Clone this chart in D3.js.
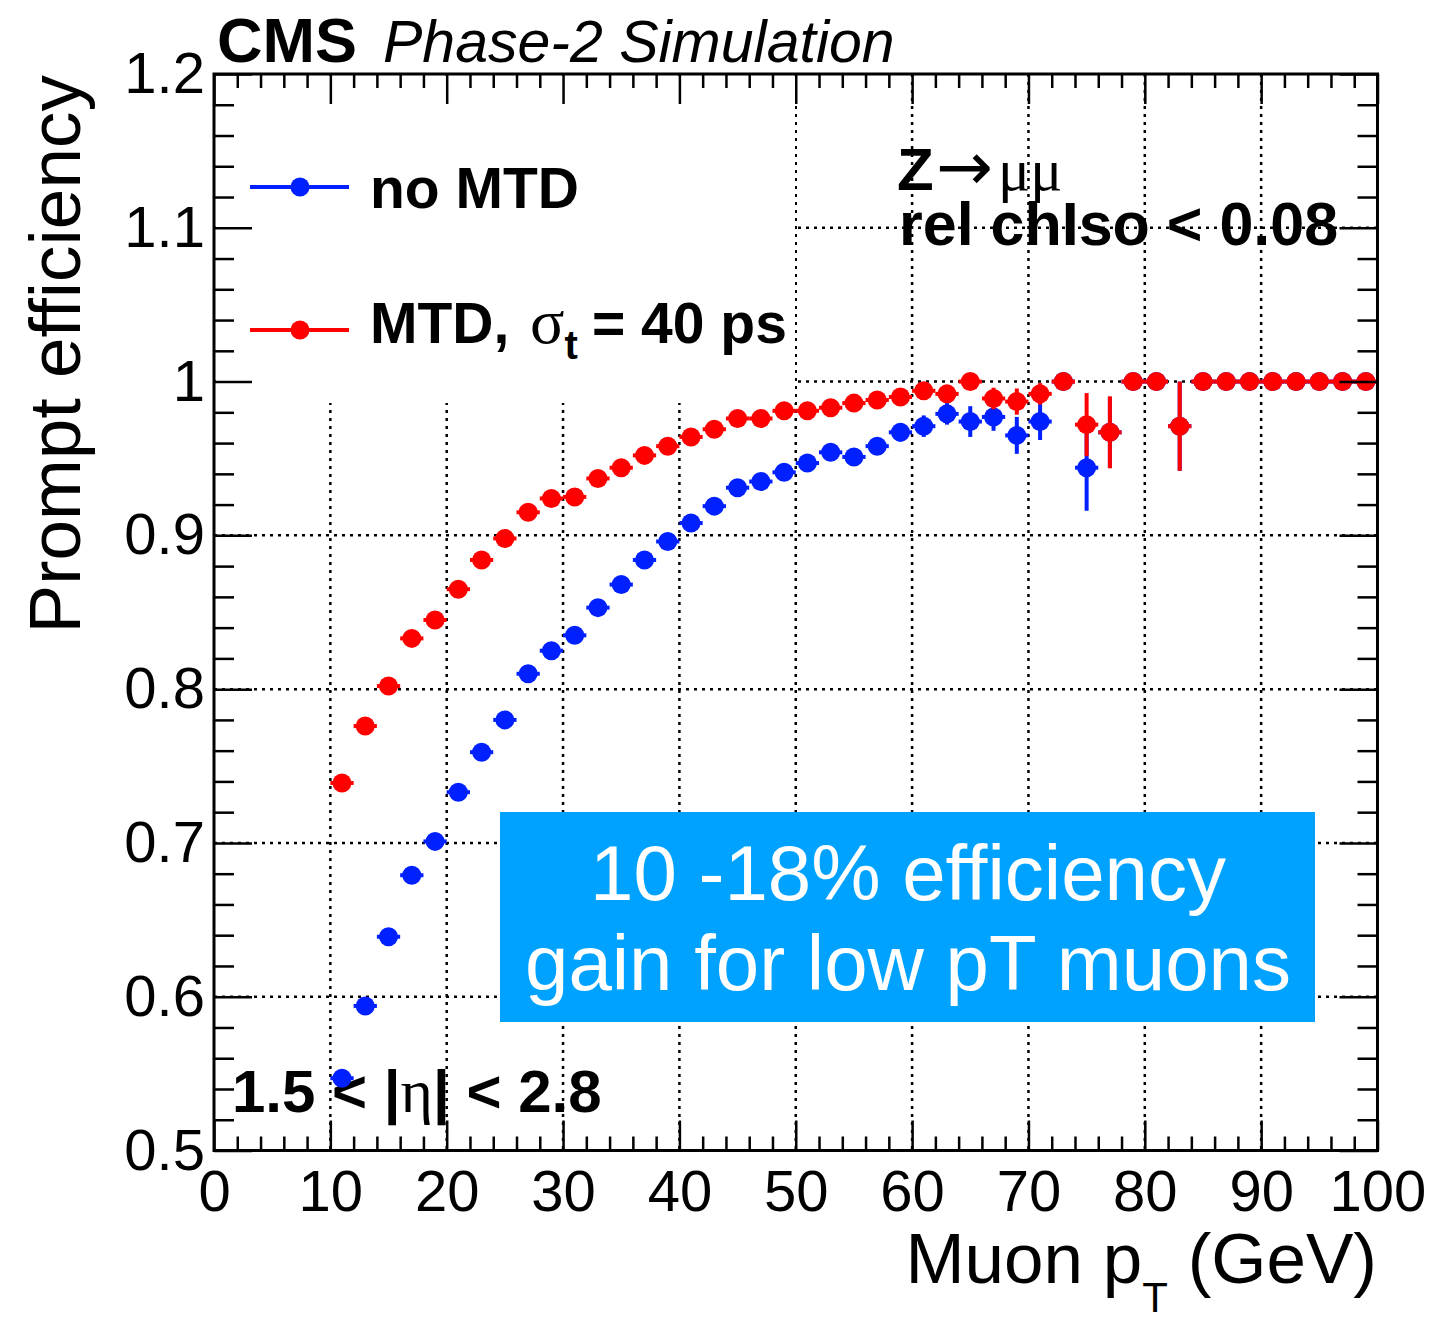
<!DOCTYPE html>
<html><head><meta charset="utf-8">
<script src="https://cdn.jsdelivr.net/npm/d3@7"></script>
<style>html,body{margin:0;padding:0;background:#fff;} svg{display:block}</style>
</head><body>
<svg id="c" width="1434" height="1323"></svg>
<script>
// ---------------- data ----------------
const ptCenters = [11,13,15,17,19,21,23,25,27,29,31,33,35,37,39,41,43,45,47,49,51,53,55,57,59,61,63,65,67,69,71,73,75,77,79,81,83,85,87,89,91,93,95,97,99];
const binHalfWidth = 1;
const effNoMTD = [0.547,0.594,0.639,0.679,0.701,0.733,0.759,0.780,0.810,0.825,0.835,0.853,0.868,0.884,0.896,0.908,0.919,0.931,0.935,0.941,0.947,0.954,0.951,0.958,0.967,0.971,0.979,0.974,0.977,0.965,0.974,1.0,0.944,0.967,1.0,1.0,0.971,1.0,1.0,1.0,1.0,1.0,1.0,1.0,1.0];
const errNoMTD = [0.004,0.004,0.004,0.004,0.004,0.004,0.004,0.004,0.004,0.004,0.004,0.004,0.004,0.004,0.004,0.004,0.004,0.004,0.004,0.004,0.004,0.004,0.004,0.005,0.006,0.007,0.007,0.010,0.009,0.012,0.012,0,0.028,0.023,0,0,0.029,0,0,0,0,0,0,0,0];
const effMTD = [0.739,0.776,0.802,0.833,0.845,0.865,0.884,0.898,0.915,0.924,0.925,0.937,0.944,0.952,0.958,0.964,0.969,0.976,0.976,0.981,0.981,0.983,0.986,0.988,0.990,0.994,0.992,1.0,0.989,0.987,0.992,1.0,0.972,0.967,1.0,1.0,0.971,1.0,1.0,1.0,1.0,1.0,1.0,1.0,1.0];
const errMTD = [0.003,0.003,0.003,0.003,0.003,0.003,0.003,0.003,0.003,0.003,0.003,0.003,0.003,0.003,0.003,0.003,0.003,0.003,0.003,0.003,0.003,0.003,0.003,0.003,0.003,0.004,0.005,0,0.007,0.0085,0.007,0,0.0205,0.0234,0,0,0.029,0,0,0,0,0,0,0,0];
const seriesNames = ["no MTD", "MTD"];
const xTickValues = [0,10,20,30,40,50,60,70,80,90,100];
const xTickLabels = ["0","10","20","30","40","50","60","70","80","90","100"];
const yTickValues = [0.5,0.6,0.7,0.8,0.9,1.0,1.1,1.2];
const yTickLabels = ["0.5","0.6","0.7","0.8","0.9","1","1.1","1.2"];
const xGridValues = [10,20,30,40,50,60,70,80,90];
const yGridValues = [0.6,0.7,0.8,0.9,1.0,1.1];

// ---------------- layout ----------------
const L=214, R=1377.5, T=74, B=1150.5;
const x = d3.scaleLinear().domain([0,100]).range([L,R]);
const y = d3.scaleLinear().domain([0.5,1.2]).range([B,T]);
const svg = d3.select("#c");
const sans = "'Liberation Sans', Arial, Helvetica, sans-serif";
const serif = "'Liberation Serif', 'Times New Roman', serif";
const BLUE = "#0020ff", RED = "#ff0000";

// grid
const grid = svg.append("g").attr("stroke","#000").attr("stroke-width",2.5).attr("stroke-dasharray","3,5");
grid.selectAll("line.gx").data(xGridValues).join("line").attr("class","gx")
  .attr("x1",d=>x(d)).attr("x2",d=>x(d)).attr("y1",T).attr("y2",B);
grid.selectAll("line.gy").data(yGridValues).join("line").attr("class","gy")
  .attr("x1",L).attr("x2",R).attr("y1",d=>y(d)).attr("y2",d=>y(d));

// legend background (hides grid)
svg.append("rect").attr("x",L+2).attr("y",T+2).attr("width",795-L-2).attr("height",403-T-2).attr("fill","#fff");

// annotation box
svg.append("rect").attr("x",500).attr("y",812).attr("width",815).attr("height",210).attr("fill","#00a2ff");
const boxText = svg.append("text").attr("font-family",sans).attr("font-size",78).attr("fill","#fff").attr("text-anchor","middle");
boxText.append("tspan").attr("x",908).attr("y",900).text("10 -18% efficiency");
boxText.append("tspan").attr("x",908).attr("y",990).text("gain for low pT muons");

// texts
const t1 = svg.append("text").attr("x",897).attr("y",190).attr("font-family",sans).attr("font-weight","bold").attr("font-size",60);
t1.append("tspan").text("Z");
t1.append("tspan").attr("x",936).attr("font-family","'DejaVu Sans', sans-serif").attr("font-weight","normal").attr("font-size",68).text("→");
t1.append("tspan").attr("x",998).attr("font-family",serif).attr("font-weight","normal").attr("font-size",60).text("μμ");
svg.append("text").attr("x",899).attr("y",245).attr("font-family",sans).attr("font-weight","bold").attr("font-size",61).text("rel chIso < 0.08");
const t3 = svg.append("text").attr("x",232).attr("y",1112).attr("font-family",sans).attr("font-weight","bold").attr("font-size",60);
t3.append("tspan").text("1.5 < |");
t3.append("tspan").attr("font-family",serif).attr("font-weight","normal").attr("font-size",62).text("η");
t3.append("tspan").text("| < 2.8");

// data
const series = [
  {name: seriesNames[0], eff: effNoMTD, err: errNoMTD, color: BLUE},
  {name: seriesNames[1], eff: effMTD, err: errMTD, color: RED}
];
series.forEach(s => {
  const g = svg.append("g");
  const pts = ptCenters.map((c,i)=>({c, v:s.eff[i], e:s.err[i]}));
  g.selectAll("line.h").data(pts).join("line").attr("class","h")
    .attr("x1",d=>x(d.c-binHalfWidth)).attr("x2",d=>x(d.c+binHalfWidth))
    .attr("y1",d=>y(d.v)).attr("y2",d=>y(d.v)).attr("stroke",s.color).attr("stroke-width",4);
  g.selectAll("line.v").data(pts.filter(d=>d.e>0)).join("line").attr("class","v")
    .attr("x1",d=>x(d.c)).attr("x2",d=>x(d.c))
    .attr("y1",d=>y(d.v-d.e)).attr("y2",d=>y(Math.min(1,d.v+d.e))).attr("stroke",s.color).attr("stroke-width",4);
  g.selectAll("circle").data(pts).join("circle")
    .attr("cx",d=>x(d.c)).attr("cy",d=>y(d.v)).attr("r",9.5).attr("fill",s.color);
});

// legend
const legY = [187, 330];
series.forEach((s,i)=>{
  svg.append("line").attr("x1",250).attr("x2",349).attr("y1",legY[i]).attr("y2",legY[i]).attr("stroke",s.color).attr("stroke-width",4);
  svg.append("circle").attr("cx",300).attr("cy",legY[i]).attr("r",9.5).attr("fill",s.color);
});
svg.append("text").attr("x",370).attr("y",208).attr("font-family",sans).attr("font-weight","bold").attr("font-size",57).text("no MTD");
const lt = svg.append("text").attr("x",370).attr("y",343).attr("font-family",sans).attr("font-weight","bold").attr("font-size",57);
lt.append("tspan").text("MTD,");
lt.append("tspan").attr("x",530).attr("font-family",serif).attr("font-weight","normal").attr("font-size",64).text("σ");
lt.append("tspan").attr("dy",16).attr("font-size",40).text("t");
lt.append("tspan").attr("x",592).attr("dy",-16).text("= 40 ps");

// axes
function styleAxis(g){
  g.select(".domain").remove();
  g.selectAll(".tick line").attr("stroke","#000").attr("stroke-width",2.5);
  g.selectAll(".tick text").attr("font-family",sans).attr("font-size",58).attr("fill","#000");
}
const xMinor = d3.range(0,101,2).filter(v=>v%10!==0);
const yMinor = d3.range(0.5,1.2001,0.02).filter(v=>Math.abs(v*10-Math.round(v*10))>1e-6);
// bottom
svg.append("g").attr("transform",`translate(0,${B})`).call(d3.axisBottom(x).tickValues(xMinor).tickSize(-14).tickFormat("")).call(styleAxis);
svg.append("g").attr("transform",`translate(0,${B})`)
  .call(d3.axisBottom(x).tickValues(xTickValues).tickSize(-30).tickPadding(19).tickFormat((d,i)=>xTickLabels[i])).call(styleAxis);
// top
svg.append("g").attr("transform",`translate(0,${T})`).call(d3.axisTop(x).tickValues(xMinor).tickSize(-14).tickFormat("")).call(styleAxis);
svg.append("g").attr("transform",`translate(0,${T})`).call(d3.axisTop(x).tickValues(xTickValues).tickSize(-30).tickFormat("")).call(styleAxis);
// left
svg.append("g").attr("transform",`translate(${L},0)`).call(d3.axisLeft(y).tickValues(yMinor).tickSize(-20).tickFormat("")).call(styleAxis);
svg.append("g").attr("transform",`translate(${L},0)`)
  .call(d3.axisLeft(y).tickValues(yTickValues).tickSize(-38).tickPadding(9).tickFormat((d,i)=>yTickLabels[i])).call(styleAxis);
// right
svg.append("g").attr("transform",`translate(${R},0)`).call(d3.axisRight(y).tickValues(yMinor).tickSize(-20).tickFormat("")).call(styleAxis);
svg.append("g").attr("transform",`translate(${R},0)`).call(d3.axisRight(y).tickValues(yTickValues).tickSize(-38).tickFormat("")).call(styleAxis);
// frame
svg.append("rect").attr("x",L).attr("y",T).attr("width",R-L).attr("height",B-T).attr("fill","none").attr("stroke","#000").attr("stroke-width",3);

// titles
const cms = svg.append("text").attr("x",217).attr("y",62).attr("font-family",sans);
cms.append("tspan").attr("font-weight","bold").attr("font-size",63).text("CMS");
cms.append("tspan").attr("x",383).attr("font-style","italic").attr("font-size",59).text("Phase-2 Simulation");

svg.append("text").attr("transform",`translate(80,75) rotate(-90)`).attr("text-anchor","end")
  .attr("font-family",sans).attr("font-size",73).text("Prompt efficiency");

const xt = svg.append("text").attr("x",1377).attr("y",1283).attr("text-anchor","end").attr("font-family",sans).attr("font-size",71);
xt.append("tspan").text("Muon p");
xt.append("tspan").attr("dy",29).attr("font-size",42).text("T");
xt.append("tspan").attr("dy",-29).text(" (GeV)");
</script>
</body></html>
